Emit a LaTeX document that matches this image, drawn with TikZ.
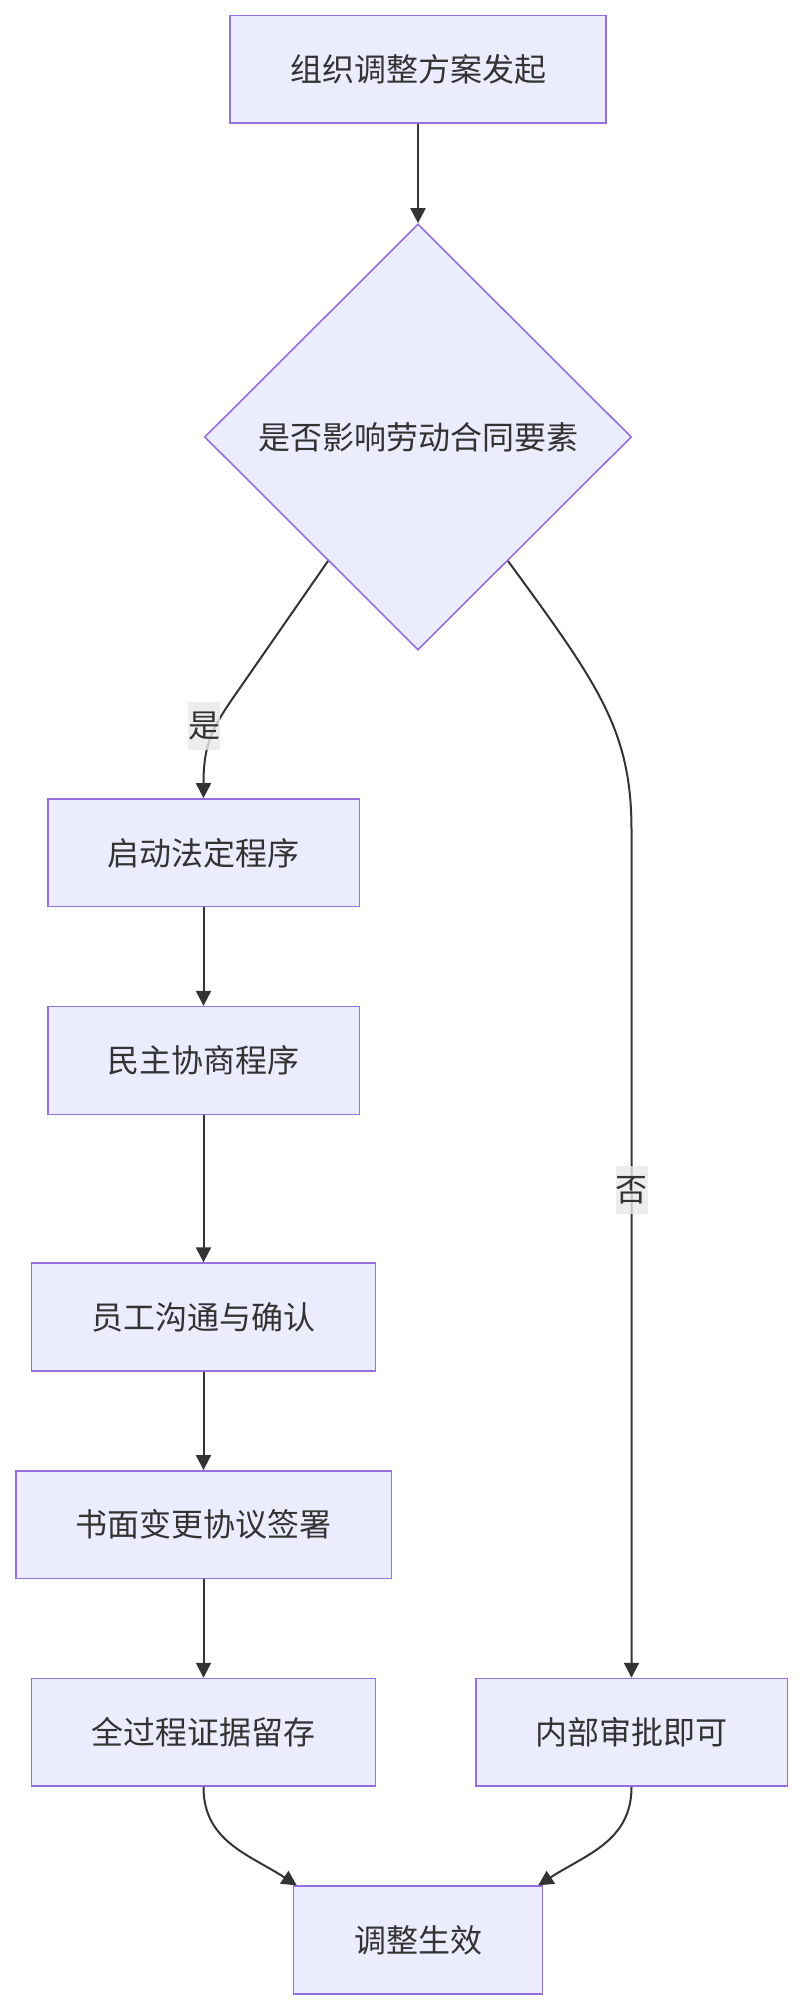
\documentclass[tikz,border=0pt]{standalone}
\usepackage{fontspec}
\setmainfont{Noto Sans CJK SC}
\usetikzlibrary{positioning, arrows.meta, calc, shapes.geometric}
\definecolor{nodefill}{HTML}{ECECFF}
\definecolor{nodeline}{HTML}{9370DB}
\definecolor{edgeline}{HTML}{333333}
\definecolor{labelfill}{HTML}{E8E8E8}

\begin{document}
\begin{tikzpicture}[x=1pt, y=-1pt,
    every node/.style={font=\fontsize{32}{37}\selectfont, text=edgeline},
    stepbox/.style={draw=nodeline, fill=nodefill, line width=1.6pt,
      minimum height=107.7pt, inner sep=0pt},
    choice/.style={diamond, draw=nodeline, fill=nodefill, line width=1.6pt,
      minimum width=427pt, minimum height=426pt, inner sep=0pt},
    flow/.style={draw=edgeline, line width=2pt,
      -{Triangle[length=15pt, width=15pt]}},
    edgelabel/.style={fill=labelfill, fill opacity=0.8, text opacity=1,
      minimum width=32pt, minimum height=48pt, inner sep=0pt}]
  \def\lx{203.5}
  \def\rx{631.5}
  \def\cx{418}
  \useasboundingbox (0,0) rectangle (804,2012);
  % nodes
  \node[stepbox, minimum width=375.8pt] (start) at (\cx, 69.3) {组织调整方案发起};
  \node[choice] (check) at (\cx, 437) {是否影响劳动合同要素};
  \node[stepbox, minimum width=311.6pt] (legal) at (\lx, 852.8) {启动法定程序};
  \node[stepbox, minimum width=311.6pt] (consult) at (\lx, 1060.5) {民主协商程序};
  \node[stepbox, minimum width=343.7pt] (confirm) at (\lx, 1317) {员工沟通与确认};
  \node[stepbox, minimum width=375.6pt] (signing) at (\lx, 1524.7) {书面变更协议签署};
  \node[stepbox, minimum width=343.7pt] (evidence) at (\lx, 1732.4) {全过程证据留存};
  \node[stepbox, minimum width=311.6pt] (internal) at (\rx, 1732.4) {内部审批即可};
  \node[stepbox, minimum width=248.8pt] (done) at (\cx, 1940) {调整生效};
  % connectors
  \coordinate (yesfrom) at ($(check.west)!0.58!(check.south)$);
  \coordinate (nofrom) at ($(check.east)!0.58!(check.south)$);
  \coordinate (nobend) at (\rx, 830);
  \draw[flow] (start) -- (check);
  \draw[flow] (yesfrom) -- ++(-86,124) .. controls +(-28,40) and +(0,-58) .. (legal.north);
  \draw[flow] (nofrom) .. controls +(90,123) and +(0,-100) .. (nobend) -- (internal.north);
  \draw[flow] (legal) -- (consult);
  \draw[flow] (consult) -- (confirm);
  \draw[flow] (confirm) -- (signing);
  \draw[flow] (signing) -- (evidence);
  \draw[flow] (evidence.south) .. controls +(0,54) and +(-48,-31) .. ($(done.north west)+(4,0)$);
  \draw[flow] (internal.south) .. controls +(0,54) and +(48,-31) .. ($(done.north east)+(-5,0)$);
  % edge labels
  \node[edgelabel] (yes) at (204, 726) {是};
  \node[edgelabel] (no) at (\rx, 1190) {否};
\end{tikzpicture}
\end{document}
